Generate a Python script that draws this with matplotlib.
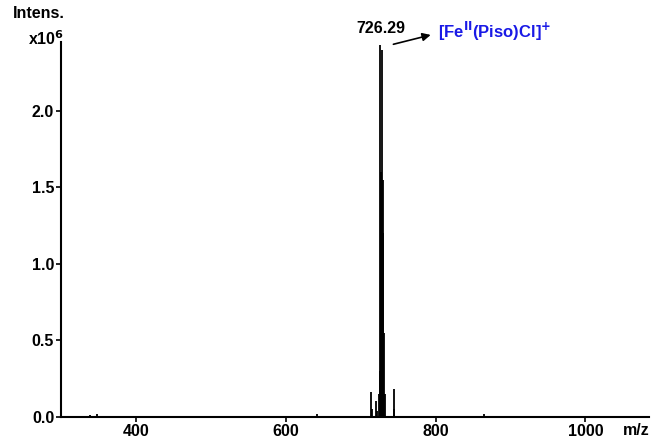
import matplotlib.pyplot as plt

plt.rcParams['font.family'] = ['Liberation Sans', 'DejaVu Sans']
plt.rcParams['font.weight'] = 'bold'

# peak list (m/z, intensity x10^6)
mz = [339, 348, 641, 714, 715, 721, 722, 724.3, 725.3, 726.29, 726.8, 727.3,
      727.8, 728.3, 728.8, 729.3, 730.3, 731.3, 732.3, 744, 745, 865]
intens = [0.01, 0.015, 0.015, 0.16, 0.05, 0.10, 0.04, 0.15, 0.30, 2.43, 1.60, 1.60,
          1.55, 2.40, 1.55, 1.55, 1.20, 0.55, 0.15, 0.18, 0.05, 0.015]

xticks = [400, 600, 800, 1000]
yticks = [0.0, 0.5, 1.0, 1.5, 2.0]

fig = plt.figure(figsize=(6.51, 4.41), dpi=100)
ax = fig.add_axes([0.094, 0.055, 0.903, 0.850])

ax.vlines(mz, 0, intens, color='black', linewidth=1.3)

ax.set_xlim(300, 1085)
ax.set_ylim(0, 2.45)
ax.set_xticks(xticks)
ax.set_yticks(yticks)
ax.set_yticklabels(['%.1f' % v for v in yticks])
ax.spines['top'].set_visible(False)
ax.spines['right'].set_visible(False)
ax.spines['left'].set_linewidth(1.5)
ax.spines['bottom'].set_linewidth(1.5)
ax.tick_params(axis='both', direction='out', length=3.5, width=1.2,
               labelsize=11.5, pad=1.5)
for lab in ax.get_xticklabels() + ax.get_yticklabels():
    lab.set_fontweight('bold')

fig.text(0.059, 0.970, 'Intens.', ha='center', va='center', fontsize=11.5, fontweight='bold')
fig.text(0.070, 0.912, r'x10$^{\mathbf{6}}$', ha='center', va='center', fontsize=11.5, fontweight='bold')
fig.text(0.978, 0.024, 'm/z', ha='center', va='center', fontsize=11.5, fontweight='bold')

ax.text(726.29, 2.49, '726.29', ha='center', va='bottom', fontsize=11.5, fontweight='bold',
        clip_on=False)
ax.annotate('', xy=(797, 2.50), xytext=(740, 2.43), annotation_clip=False,
            arrowprops=dict(arrowstyle='-|>', color='black', lw=1.2, mutation_scale=12))
ax.text(803, 2.52, r'[Fe$^{\mathbf{II}}$(Piso)Cl]$^{\mathbf{+}}$', ha='left', va='center',
        fontsize=12, fontweight='bold', color='#1a1ae6', clip_on=False)

fig.savefig('out.png', dpi=100)
